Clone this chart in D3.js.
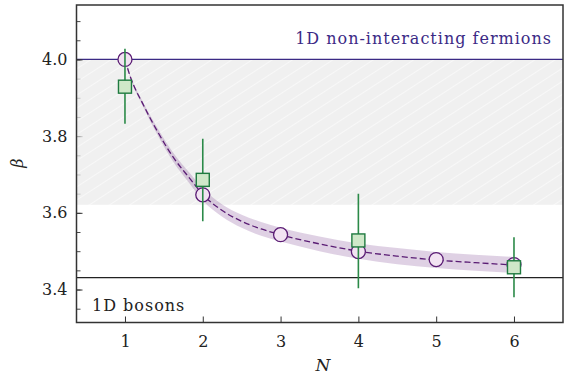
<!DOCTYPE html>
<html>
<head>
<meta charset="utf-8">
<script src="https://cdn.jsdelivr.net/npm/d3@7"></script>
<style>
  html, body { margin: 0; padding: 0; background: #fff; }
  svg text { font-family: "DejaVu Serif", "Liberation Serif", serif; }
</style>
</head>
<body>
<div id="chart"></div>
<script>
// exact results (circles)
var nExact = [1, 2, 3, 4, 5, 6];
var betaExact = [4.0, 3.647, 3.543, 3.499, 3.478, 3.465];

// numerical results with error bars (squares)
var nNum = [1, 2, 4, 6];
var betaNum = [3.929, 3.686, 3.528, 3.458];
var errLow = [3.832, 3.578, 3.403, 3.380];
var errHigh = [4.028, 3.793, 3.650, 3.536];

// fit curve, with its band half-width
var fitN = [1, 1.06, 1.24, 1.41, 1.62, 1.84, 2, 2.25, 2.5, 2.75, 3, 3.5, 4, 4.5, 5, 5.5, 6];
var fitBeta = [4.0, 3.960, 3.880, 3.815, 3.745, 3.688, 3.648, 3.606, 3.578, 3.558, 3.543, 3.519, 3.500, 3.487, 3.477, 3.470, 3.464];
var fitErr = [0.001, 0.003, 0.006, 0.009, 0.012, 0.014, 0.016, 0.016, 0.017, 0.018, 0.018, 0.019, 0.020, 0.021, 0.021, 0.021, 0.021];

// limits
var betaFermions = 4.0;
var betaBosons = 3.431;
var shadeLow = 3.621;

var xTicks = [1, 2, 3, 4, 5, 6];
var yTicks = [3.4, 3.6, 3.8, 4.0];
var yMinor = d3.range(3.35, 4.11, 0.05);

var width = 567, height = 376;
var margin = {left: 76.5, right: 4, top: 5, bottom: 53.5};

var svg = d3.select("#chart").append("svg")
  .attr("width", width)
  .attr("height", height);

var x = d3.scaleLinear().domain([0.377, 6.63]).range([margin.left, width - margin.right]);
var y = d3.scaleLinear().domain([3.314, 4.142]).range([height - margin.bottom, margin.top]);

// hatch pattern for the shaded region
var defs = svg.append("defs");
var pat = defs.append("pattern")
  .attr("id", "hatch")
  .attr("patternUnits", "userSpaceOnUse")
  .attr("width", 11).attr("height", 11)
  .attr("patternTransform", "rotate(-33)");
pat.append("rect").attr("width", 11).attr("height", 11).attr("fill", "#f0f0f0");
pat.append("line").attr("x1", 0).attr("y1", 0).attr("x2", 11).attr("y2", 0)
  .attr("stroke", "#fbfbfb").attr("stroke-width", 1.6);

defs.append("clipPath").attr("id", "clip").append("rect")
  .attr("x", x.range()[0]).attr("y", y.range()[1])
  .attr("width", x.range()[1] - x.range()[0])
  .attr("height", y.range()[0] - y.range()[1]);

var plot = svg.append("g").attr("clip-path", "url(#clip)");

// shaded region below the fermion limit
plot.append("rect")
  .attr("x", x.range()[0])
  .attr("y", y(betaFermions))
  .attr("width", x.range()[1] - x.range()[0])
  .attr("height", y(shadeLow) - y(betaFermions))
  .attr("fill", "url(#hatch)");

// axes (ticks inward)
var yAxis = d3.axisLeft(y).tickValues(yMinor).tickSize(-4).tickFormat("");
svg.append("g").attr("transform", "translate(" + margin.left + ",0)").call(yAxis)
  .call(g => g.select(".domain").remove())
  .call(g => g.selectAll("line").attr("stroke", "#333").attr("stroke-width", 0.9)
    .attr("stroke-opacity", d => (d > shadeLow && d < betaFermions - 0.01) ? 0.25 : 1));

var yAxisMajor = d3.axisLeft(y).tickValues(yTicks).tickSize(-6).tickPadding(9)
  .tickFormat(d3.format(".1f"));
svg.append("g").attr("transform", "translate(" + margin.left + ",0)").call(yAxisMajor)
  .call(g => g.select(".domain").remove())
  .call(g => g.selectAll("line").attr("stroke", "#333").attr("stroke-width", 1)
    .attr("stroke-opacity", d => (d > shadeLow && d < betaFermions - 0.01) ? 0.25 : 1))
  .call(g => g.selectAll("text").attr("font-size", 16).attr("fill", "#222")
    .attr("font-family", "DejaVu Serif"));

var xAxis = d3.axisBottom(x).tickValues(xTicks).tickSize(-6).tickPadding(13)
  .tickFormat(d3.format("d"));
svg.append("g").attr("transform", "translate(0," + (height - margin.bottom) + ")").call(xAxis)
  .call(g => g.select(".domain").remove())
  .call(g => g.selectAll("line").attr("stroke", "#333").attr("stroke-width", 1))
  .call(g => g.selectAll("text").attr("font-size", 16).attr("fill", "#222")
    .attr("font-family", "DejaVu Serif"));

// frame
svg.append("rect")
  .attr("x", x.range()[0]).attr("y", y.range()[1])
  .attr("width", x.range()[1] - x.range()[0])
  .attr("height", y.range()[0] - y.range()[1])
  .attr("fill", "none").attr("stroke", "#333").attr("stroke-width", 1.5);

// reference lines
plot.append("line")
  .attr("x1", x.range()[0]).attr("x2", x.range()[1])
  .attr("y1", y(betaFermions)).attr("y2", y(betaFermions))
  .attr("stroke", "#3b2a85").attr("stroke-width", 1.3);
plot.append("line")
  .attr("x1", x.range()[0]).attr("x2", x.range()[1])
  .attr("y1", y(betaBosons)).attr("y2", y(betaBosons))
  .attr("stroke", "#222").attr("stroke-width", 1.3);

svg.append("text")
  .attr("x", 552).attr("y", 44)
  .attr("text-anchor", "end")
  .attr("font-size", 16).attr("letter-spacing", 1)
  .attr("fill", "#3b2a85")
  .text("1D non-interacting fermions");

svg.append("text")
  .attr("x", 92).attr("y", 311)
  .attr("font-size", 16).attr("letter-spacing", 1)
  .attr("fill", "#222")
  .text("1D bosons");

// fit band + dashed line
var fitData = fitN.map((n, i) => ({n: n, b: fitBeta[i], e: fitErr[i]}));
plot.append("path")
  .datum(fitData)
  .attr("d", d3.area().curve(d3.curveMonotoneX)
    .x(d => x(d.n)).y0(d => y(d.b - d.e)).y1(d => y(d.b + d.e)))
  .attr("fill", "#7b3f8f").attr("fill-opacity", 0.24);
plot.append("path")
  .datum(fitData)
  .attr("d", d3.line().curve(d3.curveMonotoneX).x(d => x(d.n)).y(d => y(d.b)))
  .attr("fill", "none").attr("stroke", "#5a1c74").attr("stroke-width", 1.3)
  .attr("stroke-dasharray", "6,3");

// exact points
plot.selectAll("circle.exact")
  .data(nExact)
  .enter().append("circle")
  .attr("class", "exact")
  .attr("cx", d => x(d))
  .attr("cy", (d, i) => y(betaExact[i]))
  .attr("r", 7)
  .attr("fill", "#f2e3f2").attr("stroke", "#5a1c74").attr("stroke-width", 1.3);

// error bars
plot.selectAll("line.err")
  .data(nNum)
  .enter().append("line")
  .attr("class", "err")
  .attr("x1", d => x(d)).attr("x2", d => x(d))
  .attr("y1", (d, i) => y(errLow[i])).attr("y2", (d, i) => y(errHigh[i]))
  .attr("stroke", "#2b8a48").attr("stroke-width", 1.6);

var sq = 13;
plot.selectAll("rect.num")
  .data(nNum)
  .enter().append("rect")
  .attr("class", "num")
  .attr("x", d => x(d) - sq / 2)
  .attr("y", (d, i) => y(betaNum[i]) - sq / 2)
  .attr("width", sq).attr("height", sq)
  .attr("fill", "#cfe8c9").attr("stroke", "#1f7a40").attr("stroke-width", 1.4);

// axis labels
svg.append("text")
  .attr("x", 323).attr("y", 371)
  .attr("text-anchor", "middle")
  .attr("font-size", 17).attr("font-style", "italic")
  .attr("fill", "#222")
  .text("N");

svg.append("text")
  .attr("transform", "translate(23,163) rotate(-90)")
  .attr("text-anchor", "middle")
  .attr("font-size", 16).attr("font-style", "italic")
  .attr("fill", "#222")
  .text("β");
</script>
</body>
</html>
